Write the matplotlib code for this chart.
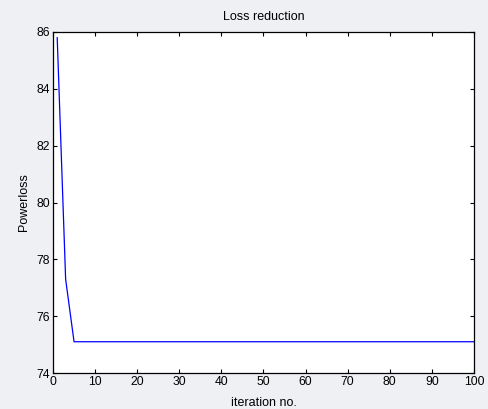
import numpy as np
import matplotlib
matplotlib.use("Agg")
from matplotlib import pyplot as plt

plt.rcParams['font.family'] = ['Liberation Sans', 'DejaVu Sans']

# power loss per iteration (best value found so far)
iterations = list(range(1, 101))
early_loss = [85.8, 81.55, 77.3, 76.2, 75.1]
final_loss = 75.1
powerloss = early_loss + [final_loss] * (len(iterations) - len(early_loss))

x_ticks = [0, 10, 20, 30, 40, 50, 60, 70, 80, 90, 100]
y_ticks = [74, 76, 78, 80, 82, 84, 86]

fig = plt.figure(figsize=(4.89, 4.09), dpi=100, facecolor='#eef0f4')
ax = fig.add_axes([53 / 489, 1 - 373 / 409, (474 - 53) / 489, (373 - 32) / 409])
ax.set_facecolor('white')

ax.plot(iterations, powerloss, color='#0000ff', linewidth=0.9)

ax.set_xlim(0, 100)
ax.set_ylim(74, 86)
ax.set_xticks(x_ticks)
ax.set_yticks(y_ticks)
ax.tick_params(direction='in', top=True, right=True, length=3, width=0.8,
               labelsize=8.7, pad=2)
for s in ax.spines.values():
    s.set_linewidth(0.9)

ax.set_title('Loss reduction', fontsize=9, pad=9)
ax.set_xlabel('iteration no.', fontsize=9, labelpad=7)
ax.set_ylabel('Powerloss', fontsize=9, labelpad=5)

fig.savefig('out.png', dpi=100, facecolor=fig.get_facecolor())
